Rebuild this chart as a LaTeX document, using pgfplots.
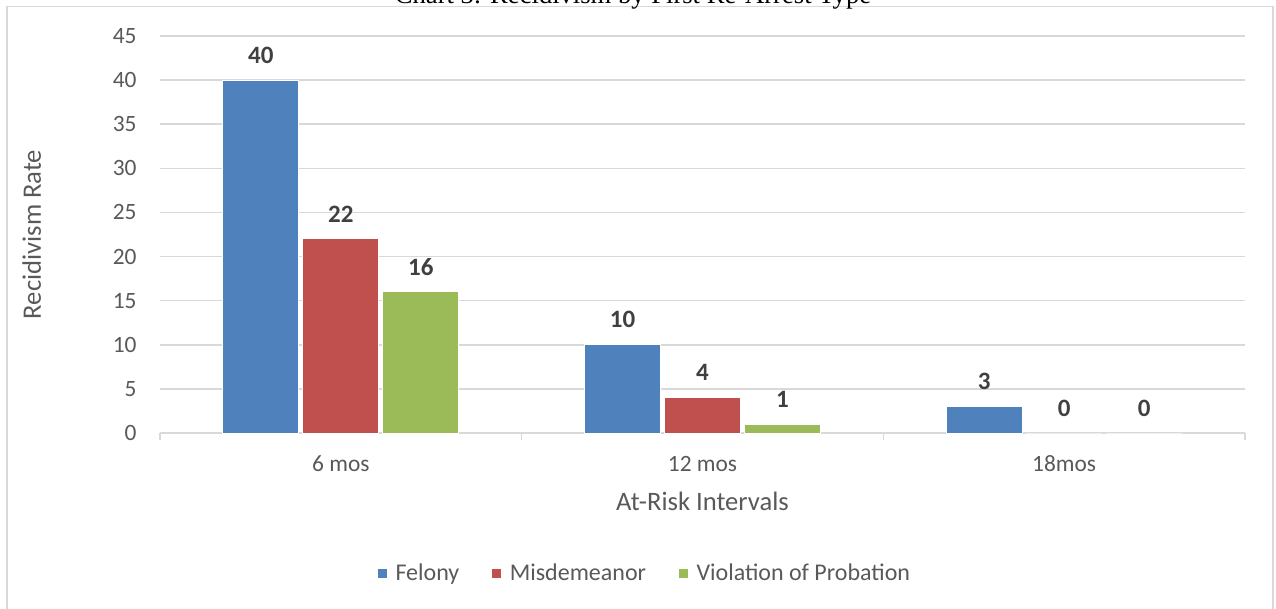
\documentclass[border=0pt]{standalone}
\usepackage{pgfplots}
\pgfplotsset{compat=1.18}
\usepackage{fontspec}
\setmainfont{Carlito}
\newfontfamily\titlefont{Liberation Serif}
\definecolor{cblue}{HTML}{4F81BD}
\definecolor{cred}{HTML}{C0504D}
\definecolor{cgreen}{HTML}{9BBB59}
\definecolor{cgrid}{HTML}{D9D9D9}
\definecolor{ctext}{HTML}{595959}
\definecolor{clabel}{HTML}{404040}
\begin{document}
\begin{tikzpicture}
\useasboundingbox (0,0) rectangle (638pt,-304.5pt);
\draw[cgrid, line width=0.75pt] (3.5pt,-320pt) -- (3.5pt,-3.25pt) -- (636.5pt,-3.25pt) -- (636.5pt,-320pt);
\node[anchor=base, inner sep=0pt, font=\titlefont\fontsize{13.3}{16}\selectfont] at (316.5pt,-2pt) {Chart 3: Recidivism by First Re-Arrest Type};
\begin{axis}[
  at={(80pt,-216.5pt)}, anchor=south west,
  scale only axis, width=542.5pt, height=198.5pt,
  ybar=2pt, bar width=38pt,
  xmin=-0.5, xmax=2.5, ymin=0, ymax=45,
  xtick={0,1,2}, xticklabels={6 mos,12 mos,18mos},
  ytick={0,5,...,45},
  axis x line=bottom, axis y line=left,
  axis line style={-},
  x axis line style={draw=cgrid, line width=0.75pt},
  y axis line style={draw=none},
  ymajorgrids=true,
  grid style={cgrid, line width=0.75pt},
  major tick length=0pt,
  extra x ticks={-0.5,0.5,1.5,2.5}, extra x tick labels={},
  extra x tick style={xtick align=outside, major tick length=3.5pt, tick style={draw=cgrid, line width=0.75pt}},
  /pgf/number format/assume math mode=true,
  ticklabel style={font=\fontsize{11.7}{14}\selectfont, text=ctext},
  yticklabel style={anchor=east, inner sep=0pt, xshift=-11.5pt},
  xticklabel style={anchor=base, inner sep=0pt, yshift=-19pt},
  xlabel={At-Risk Intervals}, ylabel={Recidivism Rate},
  label style={font=\fontsize{13.3}{16}\selectfont, text=ctext},
  xlabel style={at={(axis description cs:0.5,-0.194)}, anchor=base, inner sep=0pt},
  ylabel style={at={(axis description cs:-0.1097,0.5)}, anchor=base, inner sep=0pt, rotate=0},
  nodes near coords,
  nodes near coords style={anchor=center, yshift=12.5pt, inner sep=0pt, font=\bfseries\fontsize{12.5}{15}\selectfont, text=clabel},
  legend columns=3,
  legend style={at={(0.448,-0.355)}, anchor=center, draw=none, fill=none,
    font=\fontsize{12}{14}\selectfont, text=ctext,
    /tikz/every even column/.append style={column sep=14.5pt}},
  legend image code/.code={\fill[#1, draw=none] (0pt,-2.25pt) rectangle (4.5pt,2.25pt); \path (6.5pt,0pt);},
]
\addplot[fill=cblue, draw=white, line width=0.5pt] coordinates {(0,40) (1,10) (2,3)};
\addplot[fill=cred, draw=white, line width=0.5pt] coordinates {(0,22) (1,4) (2,0)};
\addplot[fill=cgreen, draw=white, line width=0.5pt] coordinates {(0,16) (1,1) (2,0)};
\legend{Felony,Misdemeanor,Violation of Probation}
\end{axis}
\end{tikzpicture}
\end{document}
